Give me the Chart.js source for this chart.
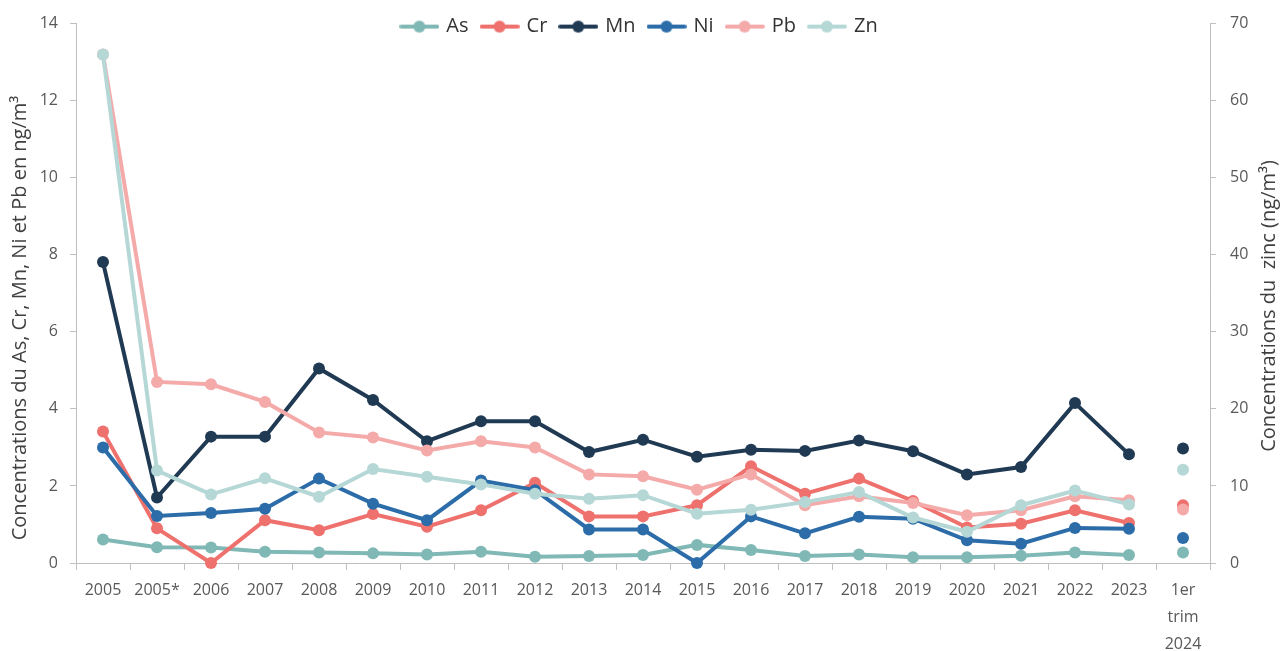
<!DOCTYPE html>
<html><head><meta charset="utf-8">
<script src="https://cdn.jsdelivr.net/npm/chart.js@4/dist/chart.umd.min.js"></script>
<style>html,body{margin:0;padding:0;background:#fff}#wrap{width:1280px;height:651px}</style>
</head><body><div id="wrap"><canvas id="c" width="1280" height="651"></canvas></div>
<script>
// ---- data ----
const categories = ['2005','2005*','2006','2007','2008','2009','2010','2011','2012','2013','2014','2015','2016','2017','2018','2019','2020','2021','2022','2023',['1er','trim','2024']];
const seriesNames = ['As','Cr','Mn','Ni','Pb','Zn'];
const asValues = [0.61,0.41,0.40,0.29,0.27,0.25,0.22,0.29,0.16,0.18,0.21,0.47,0.34,0.18,0.22,0.15,0.15,0.19,0.27,0.21,0.27];
const crValues = [3.41,0.90,0,1.11,0.85,1.27,0.94,1.37,2.08,1.21,1.21,1.50,2.51,1.80,2.19,1.61,0.92,1.02,1.37,1.04,1.50];
const mnValues = [7.81,1.70,3.28,3.28,5.05,4.23,3.16,3.68,3.68,2.88,3.20,2.76,2.94,2.91,3.18,2.90,2.30,2.49,4.15,2.82,2.97];
const niValues = [3.00,1.22,1.30,1.41,2.19,1.54,1.11,2.14,1.89,0.87,0.87,0,1.21,0.77,1.20,1.15,0.59,0.50,0.91,0.89,0.65];
const pbValues = [13.2,4.70,4.64,4.18,3.39,3.26,2.92,3.16,3.00,2.30,2.25,1.90,2.30,1.50,1.73,1.56,1.24,1.37,1.73,1.63,1.39];
const znValues = [66.0,12.0,8.9,11.0,8.6,12.2,11.2,10.2,9.0,8.35,8.8,6.4,6.9,7.9,9.2,5.9,4.05,7.5,9.4,7.6,12.1];
const leftAxisRange = [0, 14, 2];   // min, max, step
const rightAxisRange = [0, 70, 10];
const leftTitle = 'Concentrations du As, Cr, Mn, Ni et Pb en ng/m\u00B3';
const rightTitle = 'Concentrations du  zinc (ng/m\u00B3)';

// ---- style ----
const FONT = '"Open Sans", "Noto Sans", sans-serif';
const colors = {As:'#80b8b6', Cr:'#ee716d', Mn:'#213a53', Ni:'#2b6ca9', Pb:'#f5aaaa', Zn:'#b5d8d6'};
const values = {As:asValues, Cr:crValues, Mn:mnValues, Ni:niValues, Pb:pbValues, Zn:znValues};
const lastIdx = categories.length - 1;

function legendIcon(color){
  const c = document.createElement('canvas');
  c.width = 40; c.height = 14;
  const g = c.getContext('2d');
  g.strokeStyle = color; g.lineWidth = 4; g.lineCap = 'round';
  g.beginPath(); g.moveTo(2,7); g.lineTo(38,7); g.stroke();
  g.fillStyle = color; g.beginPath(); g.arc(20,7,6,0,Math.PI*2); g.fill();
  return c;
}

const datasets = seriesNames.map((name, i) => ({
  label: name,
  data: values[name],
  yAxisID: name === 'Zn' ? 'y1' : 'y',
  borderColor: colors[name],
  backgroundColor: colors[name],
  pointBackgroundColor: colors[name],
  pointBorderWidth: 0,
  pointRadius: 6,
  pointHoverRadius: 6,
  borderWidth: 4,
  tension: 0,
  clip: false,
  order: seriesNames.length - i,
  segment: { borderColor: ctx => ctx.p1DataIndex === lastIdx ? 'rgba(0,0,0,0)' : undefined }
}));

// legend occupies only 21px of layout but needs room to draw
const legendRoom = {
  id: 'legendRoom',
  afterLayout(chart){
    const lg = chart.legend;
    if (lg) { lg.height = 60; lg.bottom = lg.top + 60; }
  }
};

const titlePlugin = {
  id: 'axisTitles',
  afterDraw(chart){
    const ctx = chart.ctx;
    const draw = (text, x, y) => {
      ctx.save();
      ctx.fillStyle = '#404040';
      ctx.font = '20px ' + FONT;
      ctx.textAlign = 'center'; ctx.textBaseline = 'middle';
      ctx.translate(x, y); ctx.rotate(-Math.PI/2); ctx.fillText(text, 0, 0);
      ctx.restore();
    };
    draw(leftTitle, 20, 318);
    draw(rightTitle, 1269, 306);
  }
};

const axisGrey = '#bfbfbf';
const tickGrey = '#595959';

new Chart(document.getElementById('c'), {
  type: 'line',
  data: { labels: categories, datasets },
  options: {
    responsive: false,
    animation: false,
    devicePixelRatio: 1,
    layout: { padding: 0 },
    plugins: {
      tooltip: { enabled: false },
      legend: {
        position: 'top',
        maxHeight: 21,
        labels: {
          usePointStyle: true,
          pointStyleWidth: 34,
          padding: 14,
          color: '#333333',
          font: { family: FONT, size: 20 },
          generateLabels(chart){
            return chart.data.datasets.map((ds, i) => ({
              text: ds.label, pointStyle: legendIcon(ds.borderColor),
              fillStyle: ds.borderColor, strokeStyle: ds.borderColor, lineWidth: 0,
              hidden: false, datasetIndex: i, fontColor: '#333333'
            }));
          }
        }
      }
    },
    scales: {
      x: {
        type: 'category',
        offset: true,
        grid: { offset: true, drawOnChartArea: false, color: axisGrey, tickLength: 7 },
        border: { color: axisGrey, width: 1 },
        ticks: { color: tickGrey, font: { family: FONT, size: 16, lineHeight: 27/16 }, padding: 7, maxRotation: 0, autoSkip: false },
        afterFit(s){ s.height = 88; }
      },
      y: {
        position: 'left',
        min: leftAxisRange[0], max: leftAxisRange[1],
        ticks: { stepSize: leftAxisRange[2], color: tickGrey, font: { family: FONT, size: 16 }, padding: 12 },
        grid: { drawOnChartArea: false, color: axisGrey, tickLength: 6 },
        border: { color: axisGrey, width: 1 },
        afterFit(s){ s.width = 76; }
      },
      y1: {
        position: 'right',
        min: rightAxisRange[0], max: rightAxisRange[1],
        ticks: { stepSize: rightAxisRange[2], color: tickGrey, font: { family: FONT, size: 16 }, padding: 14 },
        grid: { drawOnChartArea: false, color: axisGrey, tickLength: 6 },
        border: { color: axisGrey, width: 1 },
        afterFit(s){ s.width = 70; }
      }
    }
  },
  plugins: [legendRoom, titlePlugin]
});
</script></body></html>
